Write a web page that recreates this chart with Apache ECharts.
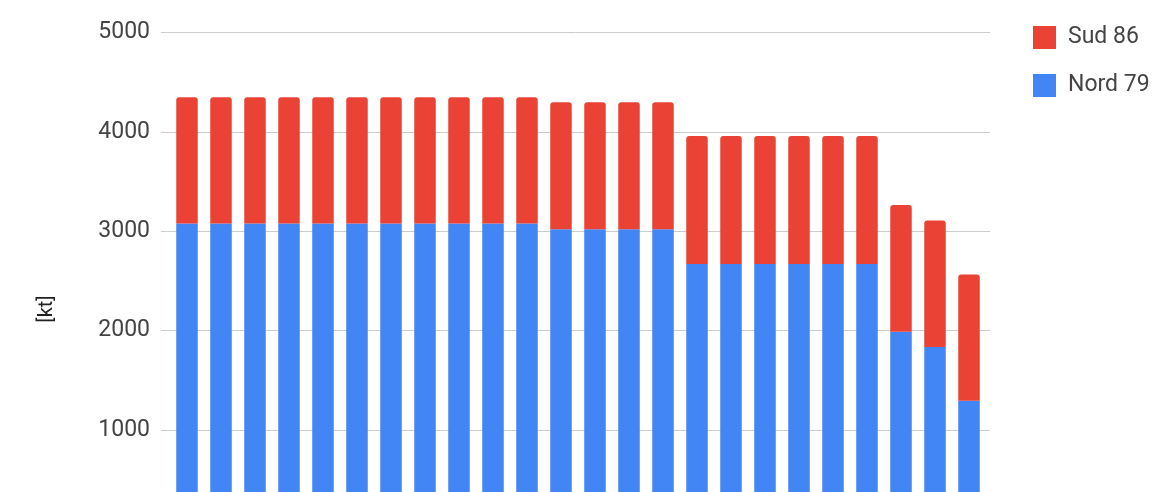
<!DOCTYPE html>
<html>
<head>
<meta charset="utf-8">
<script src="https://cdn.jsdelivr.net/npm/echarts@6/dist/echarts.min.js"></script>
<style>
html,body{margin:0;padding:0;background:#fff;overflow:hidden;}
#chart{width:1153px;height:600px;}
</style>
</head>
<body>
<div id="chart"></div>
<script>
const categories = ['1','2','3','4','5','6','7','8','9','10','11','12','13','14','15','16','17','18','19','20','21','22','23','24'];
const nord79 = [3080,3080,3080,3080,3080,3080,3080,3080,3080,3080,3080,3020,3020,3020,3020,2670,2670,2670,2670,2670,2670,1990,1835,1295];
const sud86  = [1270,1270,1270,1270,1270,1270,1270,1270,1270,1270,1270,1280,1280,1280,1280,1290,1290,1290,1290,1290,1290,1275,1275,1270];
const yTicks = [0,1000,2000,3000,4000,5000];
const seriesNames = ['Nord 79','Sud 86'];
const legendOrder = ['Sud 86','Nord 79'];
const yTitle = '[kt]';

const chart = echarts.init(document.getElementById('chart'), null, {renderer:'canvas'});
const FONT = 'Roboto, "Noto Sans", sans-serif';
const TOP = 32.7, HEIGHT = 496.6;
chart.setOption({
  animation:false,
  textStyle:{fontFamily:FONT},
  grid:[
    {left:161, width:829, top:TOP, height:HEIGHT},
    {left:170, width:816, top:TOP, height:HEIGHT}
  ],
  xAxis:[
    {gridIndex:0, type:'category', data:categories, show:false},
    {gridIndex:1, type:'category', data:categories, show:false}
  ],
  yAxis:[
    {gridIndex:0, type:'value', min:yTicks[0], max:yTicks[yTicks.length-1], interval:1000,
     axisLine:{show:false}, axisTick:{show:false},
     axisLabel:{margin:11, color:'#444', fontSize:23, fontFamily:FONT, formatter:function(v){return String(v);}},
     splitLine:{lineStyle:{color:'#cccccc', width:1}}},
    {gridIndex:1, type:'value', min:yTicks[0], max:yTicks[yTicks.length-1], interval:1000, show:false,
     splitLine:{show:false}}
  ],
  legend:{
    orient:'vertical', left:1028, top:21, itemWidth:23, itemHeight:23, itemGap:25,
    icon:'rect', data:legendOrder,
    textStyle:{fontSize:23, color:'#444', fontFamily:FONT, padding:[0,0,0,7]}
  },
  graphic:[{
    type:'text', x:47, y:309, rotation:Math.PI/2,
    style:{text:yTitle, x:0, y:0, align:'center', verticalAlign:'middle', fontSize:20, fill:'#222', fontFamily:FONT}
  }],
  series:[
    {name:seriesNames[0], type:'bar', stack:'t', xAxisIndex:1, yAxisIndex:1, data:nord79, barWidth:21.5,
     itemStyle:{color:'#4285F4'}},
    {name:seriesNames[1], type:'bar', stack:'t', xAxisIndex:1, yAxisIndex:1, data:sud86, barWidth:21.5,
     itemStyle:{color:'#EA4335', borderRadius:[3,3,0,0]}}
  ]
});
</script>
</body>
</html>
